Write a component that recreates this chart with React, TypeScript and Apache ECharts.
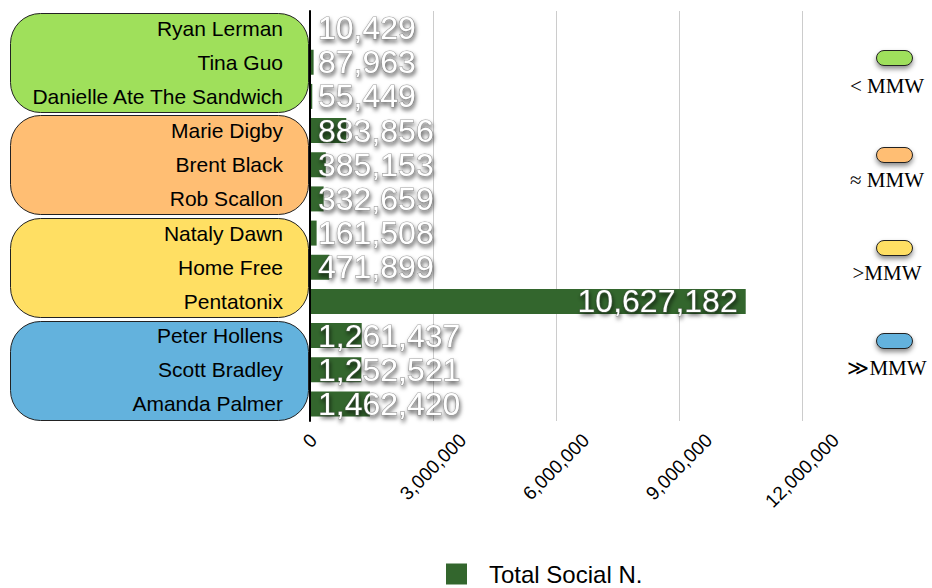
import React, { useEffect, useRef } from "react";
import * as echarts from "echarts";

const categories = [
  "Ryan Lerman",
  "Tina Guo",
  "Danielle Ate The Sandwich",
  "Marie Digby",
  "Brent Black",
  "Rob Scallon",
  "Nataly Dawn",
  "Home Free",
  "Pentatonix",
  "Peter Hollens",
  "Scott Bradley",
  "Amanda Palmer",
];
const totalSocial = [
  10429, 87963, 55449, 883856, 385153, 332659, 161508, 471899, 10627182,
  1261437, 1252521, 1462420,
];
const seriesName = "Total Social N.";
const groupLabels = ["< MMW", "≈ MMW", ">MMW", "≫MMW"];
const groupColors = ["#9fe05b", "#ffbe73", "#ffdf63", "#63b2dd"];
const groupSize = 3;
const xMin = 0;
const xMax = 12000000;
const xInterval = 3000000;
const xTicks = [0, 3000000, 6000000, 9000000, 12000000];

const fmt = (v: number) => v.toLocaleString("en-US");
const SANS = "Liberation Sans, Arial, sans-serif";

function measure(text: string, font: string): number {
  const c = document.createElement("canvas").getContext("2d");
  if (!c) return text.length * 10;
  c.font = font;
  return c.measureText(text).width;
}

export default function App() {
  const ref = useRef<HTMLDivElement>(null);
  useEffect(() => {
    document.body.style.margin = "0";
    if (!ref.current) return;
    const chart = echarts.init(ref.current, undefined, { renderer: "svg" });
    const option: any = {
      animation: false,
      grid: { left: 310, right: 130, top: 11, bottom: 167, containLabel: false },
      xAxis: {
        type: "value",
        min: xMin,
        max: xMax,
        interval: xInterval,
        axisLine: { show: false },
        axisTick: { show: false },
        splitLine: { show: true, lineStyle: { color: "#cccccc", width: 1 } },
        axisLabel: { show: false },
      },
      yAxis: {
        type: "category",
        inverse: true,
        data: categories,
        axisLine: { show: true, lineStyle: { color: "#000", width: 2 } },
        axisTick: { show: false },
        axisLabel: {
          fontSize: 21,
          color: "#000",
          fontFamily: SANS,
          margin: 27,
        },
        z: 5,
      },
      legend: {
        show: true,
        left: 441,
        top: 557,
        padding: 5,
        icon: "rect",
        itemWidth: 21,
        itemHeight: 21,
        data: [seriesName],
        textStyle: {
          fontSize: 24,
          lineHeight: 24,
          color: "#000",
          fontFamily: SANS,
          padding: [0, 0, 0, 17],
        },
      },
      series: [
        {
          name: seriesName,
          type: "bar",
          barWidth: 25,
          itemStyle: { color: "#33662d" },
          data: totalSocial.map((v) => ({
            value: v,
            label: {
              position: v > xMax / 2 ? "insideRight" : "insideLeft",
            },
          })),
          label: {
            show: true,
            distance: 8,
            formatter: (p: any) => fmt(p.value),
            fontSize: 32,
            color: "#ffffff",
            fontFamily: SANS,
            textBorderColor: "rgba(90,90,90,0.55)",
            textBorderWidth: 1.2,
            textShadowColor: "rgba(0,0,0,0.65)",
            textShadowBlur: 4,
            textShadowOffsetX: 1,
            textShadowOffsetY: 3,
          },
          z: 3,
        },
      ],
    };
    chart.setOption(option);

    const graphics: any[] = [];

    // Slanted x-axis tick labels, horizontally centred on each tick
    const tickFontSize = 19;
    const tickFont = `${tickFontSize}px ${SANS}`;
    const plotBottom = chart.convertToPixel({ yAxisIndex: 0 }, categories[categories.length - 1]) as number;
    const step0 =
      (chart.convertToPixel({ yAxisIndex: 0 }, categories[1]) as number) -
      (chart.convertToPixel({ yAxisIndex: 0 }, categories[0]) as number);
    const axisY = plotBottom + step0 / 2;
    xTicks.forEach((t) => {
      const label = fmt(t);
      const L = measure(label, tickFont);
      const h = tickFontSize * 0.72;
      const W = (L + h) / Math.SQRT2;
      const x = chart.convertToPixel({ xAxisIndex: 0 }, t) as number;
      graphics.push({
        type: "text",
        z: 1,
        x,
        y: axisY + 11 + W / 2,
        rotation: Math.PI / 4,
        style: {
          text: label,
          fill: "#000",
          font: tickFont,
          align: "center",
          verticalAlign: "middle",
        },
      });
    });

    // Group backgrounds behind category labels, computed from the category axis
    const nGroups = Math.ceil(categories.length / groupSize);
    for (let g = 0; g < nGroups; g++) {
      const first = categories[g * groupSize];
      const last = categories[Math.min(categories.length - 1, g * groupSize + groupSize - 1)];
      const top = (chart.convertToPixel({ yAxisIndex: 0 }, first) as number) - step0 / 2 + 2;
      const bottom = (chart.convertToPixel({ yAxisIndex: 0 }, last) as number) + step0 / 2 - 2;
      graphics.push({
        type: "rect",
        z: -10,
        shape: { x: 10.5, y: Math.round(top) + 0.5, width: 298, height: Math.round(bottom - top), r: 30 },
        style: { fill: groupColors[g], stroke: "#222", lineWidth: 1 },
      });
      // side legend
      const pillY = [50, 147, 240, 333][g];
      const textY = [86, 180, 273, 368][g];
      graphics.push({
        type: "rect",
        z: 1,
        shape: { x: 876.5, y: pillY + 0.5, width: 36, height: 15, r: 7.5 },
        style: {
          fill: groupColors[g],
          stroke: "#222",
          lineWidth: 1,
          shadowColor: "rgba(0,0,0,0.45)",
          shadowBlur: 5,
          shadowOffsetY: 3,
        },
      });
      graphics.push({
        type: "text",
        z: 1,
        x: 887,
        y: textY,
        style: {
          text: groupLabels[g],
          fill: "#000",
          font: '21px "Liberation Serif", "Times New Roman", serif',
          align: "center",
          verticalAlign: "middle",
        },
      });
    }
    chart.setOption({ graphic: graphics });

    return () => chart.dispose();
  }, []);
  return <div ref={ref} style={{ width: 932, height: 588 }} />;
}
